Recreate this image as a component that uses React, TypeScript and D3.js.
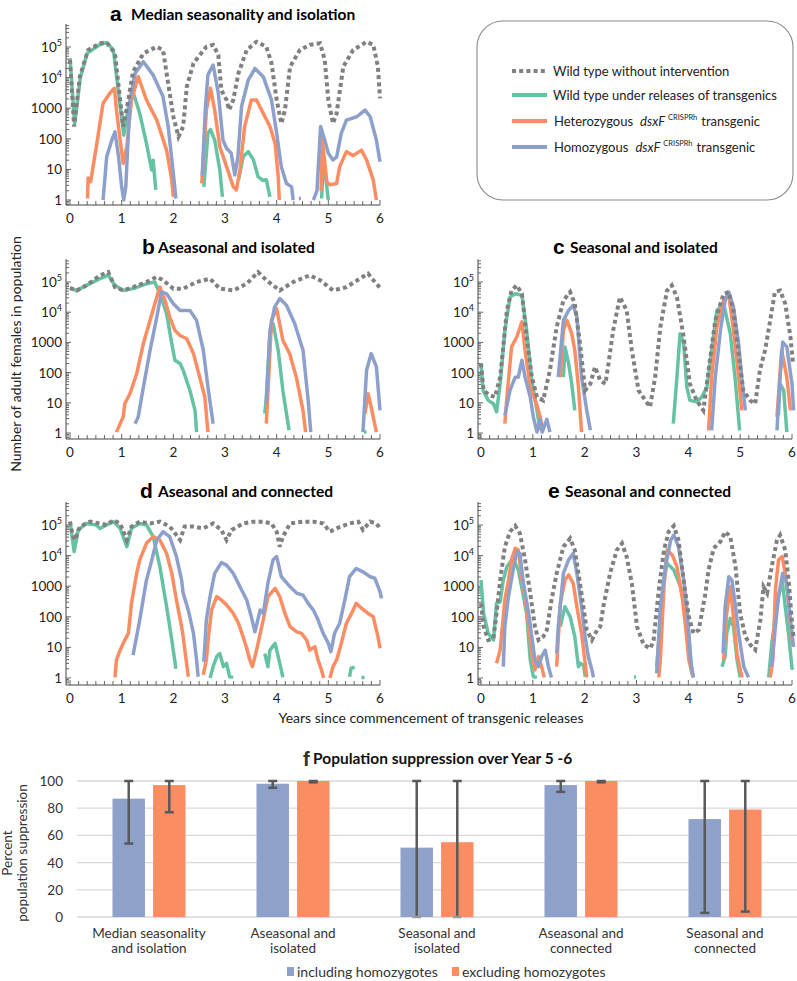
import React from 'react';
import * as d3 from 'd3';

// each series: [years, log10(adult females)], null = break (population < 1)
type Pt = [number, number] | null;

// a  median seasonality and isolation
const aWild: Pt[] = [[0,4.58],[0.08,2.4],[0.19,4.03],[0.35,4.9],[0.58,5.12],[0.71,5.15],[0.87,4.79],[0.97,3.27],[1.03,2.4],[1.13,3.27],[1.22,4.19],[1.42,4.79],[1.68,5.01],[1.8,4.9],[1.9,3.81],[2.0,2.72],[2.1,2.07],[2.19,2.4],[2.26,3.7],[2.39,4.47],[2.64,5.01],[2.77,5.07],[2.87,4.74],[2.93,3.59],[3.03,3.27],[3.08,2.94],[3.16,3.27],[3.26,4.14],[3.42,4.9],[3.61,5.17],[3.8,5.01],[3.9,4.47],[4.0,3.27],[4.09,2.5],[4.16,2.94],[4.26,4.36],[4.45,4.9],[4.64,5.07],[4.84,5.12],[4.93,4.58],[5.0,3.27],[5.09,2.5],[5.16,2.83],[5.29,4.36],[5.48,4.9],[5.74,5.17],[5.87,5.07],[5.96,4.36],[6.0,3.32]];
const aGreen: Pt[] = [[0,4.64],[0.09,2.49],[0.2,4.0],[0.33,4.79],[0.55,5.05],[0.71,5.15],[0.84,4.9],[0.94,3.5],[1.04,2.12],[1.13,3.05],[1.22,3.54],[1.35,2.83],[1.48,1.85],[1.58,0.98],[1.61,1.3],[1.66,0.33],null,[2.59,0.43],[2.67,2.18],[2.72,2.3],[2.8,1.96],[2.9,0.98],[2.95,0.1],null,[3.26,0.65],[3.35,1.41],[3.45,1.58],[3.55,1.31],[3.64,0.76],[3.73,0.64],[3.8,0.66],[3.87,0.1],null,[4.87,0.05],[4.91,1.41],[4.97,0.43],[5.0,0]];
const aHet: Pt[] = [[0.34,0.05],[0.35,0.72],[0.4,0.6],[0.52,1.85],[0.64,3.16],[0.77,3.49],[0.86,3.65],[0.9,2.94],[0.97,1.96],[1.03,1.2],[1.1,1.74],[1.19,3.27],[1.32,4.03],[1.48,3.27],[1.68,2.61],[1.87,1.63],[1.97,0.65],[2.0,0.1],null,[2.55,0.54],[2.64,2.94],[2.72,3.65],[2.8,2.94],[2.9,1.74],[3.03,1.09],[3.16,0.43],[3.22,0.33],[3.29,0.98],[3.38,2.4],[3.51,3.27],[3.61,3.27],[3.74,2.83],[3.87,2.4],[3.97,1.85],[4.03,0.76],[4.05,0],null,[4.86,0.3],[4.88,2.0],[4.92,1.4],[4.97,0.6],[5.03,0.5],[5.16,0.54],[5.22,1.09],[5.35,1.58],[5.48,1.45],[5.64,1.63],[5.74,1.31],[5.87,0.65],[5.93,0]];
const aHom: Pt[] = [[0.64,0],[0.71,1.41],[0.81,1.96],[0.87,2.23],[0.94,1.41],[1.0,0.43],[1.04,0],[1.08,0.43],[1.16,3.27],[1.26,4.14],[1.42,4.52],[1.61,4.08],[1.8,3.38],[1.9,2.4],[2.0,0.87],[2.05,0.05],null,[2.56,0.8],[2.62,3.0],[2.67,4.1],[2.77,4.41],[2.87,3.5],[2.96,1.96],[3.03,1.69],[3.12,1.53],[3.19,0.82],[3.25,1.4],[3.32,3.05],[3.45,3.92],[3.58,4.3],[3.74,4.03],[3.9,3.27],[4.0,2.18],[4.09,1.09],[4.19,0.54],[4.29,0.43],[4.32,0],null,[4.43,0.05],[4.47,0.05],null,[4.71,0],[4.78,0.3],[4.85,2.4],[4.93,1.96],[5.0,1.53],[5.09,1.31],[5.16,1.4],[5.25,2.18],[5.35,2.61],[5.55,2.72],[5.71,2.94],[5.81,2.72],[5.93,1.96],[6.0,1.25]];

// b  aseasonal and isolated
const bWild: Pt[] = [[0,4.81],[0.13,4.72],[0.32,4.89],[0.58,5.22],[0.74,5.33],[0.87,4.83],[1.03,4.72],[1.22,4.83],[1.48,5.0],[1.68,5.17],[1.8,5.06],[2.0,4.78],[2.19,4.78],[2.45,5.0],[2.71,5.11],[2.9,4.78],[3.16,4.72],[3.42,4.94],[3.64,5.33],[3.8,5.06],[4.06,4.72],[4.32,5.0],[4.64,5.22],[4.84,5.06],[5.09,4.72],[5.35,4.83],[5.61,5.11],[5.77,5.28],[5.9,5.0],[6.0,4.81]];
const bGreen: Pt[] = [[0,4.78],[0.13,4.72],[0.32,4.89],[0.58,5.11],[0.74,5.22],[0.87,4.89],[1.03,4.72],[1.22,4.78],[1.48,4.94],[1.64,5.0],[1.74,4.61],[1.87,3.95],[1.97,2.96],[2.03,2.41],[2.13,2.3],[2.19,2.08],[2.32,1.41],[2.42,0.75],[2.45,0.03],null,[3.77,0.64],[3.8,1.19],[3.87,3.29],[3.93,3.62],[4.03,2.74],[4.12,1.41],[4.24,0.09],null,[5.69,0.03],[5.74,0.03]];
const bHet: Pt[] = [[0.9,0.03],[0.97,0.31],[1.03,0.53],[1.06,0.97],[1.16,1.3],[1.29,1.96],[1.42,2.96],[1.55,3.73],[1.68,4.5],[1.74,4.83],[1.84,4.39],[1.93,3.84],[2.03,3.4],[2.13,3.23],[2.26,3.12],[2.39,2.63],[2.51,1.85],[2.61,1.19],[2.67,0.03],null,[3.8,0.31],[3.83,1.3],[3.9,3.73],[4.0,4.12],[4.12,3.07],[4.25,2.63],[4.38,1.85],[4.51,0.75],[4.56,0.03],null,[5.71,0.64],[5.77,1.3],[5.83,0.86],[5.93,0.03]];
const bHom: Pt[] = [[1.26,0.31],[1.32,0.53],[1.42,1.52],[1.55,2.74],[1.68,3.84],[1.77,4.67],[1.87,4.61],[2.0,4.28],[2.13,4.06],[2.32,4.06],[2.45,3.73],[2.58,2.74],[2.67,1.52],[2.77,0.31],null,[3.8,0.97],[3.87,3.4],[3.96,4.17],[4.06,4.45],[4.19,4.23],[4.35,3.62],[4.51,2.74],[4.61,1.08],[4.66,0.03],null,[5.67,0.03],[5.74,2.08],[5.83,2.63],[5.93,2.19],[6.0,0.75]];

// c  seasonal and isolated
const cWild: Pt[] = [[0,2.3],[0.05,1.41],[0.17,1.25],[0.27,1.19],[0.37,1.85],[0.5,4.06],[0.59,4.72],[0.69,4.89],[0.79,4.61],[0.88,3.18],[0.98,1.85],[1.08,1.19],[1.2,1.08],[1.33,2.08],[1.46,3.51],[1.59,4.39],[1.72,4.67],[1.81,4.28],[1.91,2.96],[2.01,1.41],[2.11,1.63],[2.2,2.19],[2.3,1.74],[2.4,1.63],[2.46,2.3],[2.55,3.4],[2.68,4.5],[2.81,4.06],[2.91,2.74],[3.04,1.41],[3.17,1.08],[3.26,0.86],[3.36,1.85],[3.46,3.51],[3.59,4.72],[3.68,4.89],[3.78,4.5],[3.91,3.18],[4.03,1.63],[4.16,1.08],[4.29,0.75],[4.39,2.08],[4.52,3.73],[4.68,4.61],[4.78,4.67],[4.87,4.06],[4.97,2.63],[5.06,1.41],[5.19,1.08],[5.29,0.97],[5.38,2.08],[5.48,2.74],[5.58,3.73],[5.67,4.67],[5.77,4.72],[5.87,4.28],[5.97,3.18],[6.02,2.3]];
const cGreen: Pt[] = [[0,2.3],[0.04,1.41],[0.14,1.08],[0.24,0.97],[0.3,0.7],[0.37,1.63],[0.46,3.4],[0.56,4.5],[0.66,4.61],[0.79,4.56],[0.88,3.4],[0.98,1.74],[1.08,0.75],[1.14,0.09],null,[1.59,1.85],[1.62,2.85],[1.69,2.3],[1.75,1.63],[1.81,0.75],null,[3.71,0.31],[3.78,1.85],[3.84,3.29],[3.91,2.96],[3.97,1.52],[4.03,1.08],[4.16,1.03],[4.26,1.19],[4.36,1.52],[4.45,2.74],[4.55,4.06],[4.68,4.28],[4.81,3.29],[4.9,1.85],[4.99,0.09],null,[5.74,0.6],[5.77,1.63],[5.84,1.41],[5.9,0.03]];
const cHet: Pt[] = [[0.46,0.31],[0.5,1.19],[0.59,2.85],[0.69,3.18],[0.79,3.68],[0.85,2.74],[0.95,1.52],[1.08,0.92],[1.14,0.53],[1.2,0.09],null,[1.53,1.85],[1.59,3.4],[1.66,3.73],[1.75,3.29],[1.81,2.74],[1.88,1.52],[1.94,0.03],null,[4.39,0.09],[4.45,1.85],[4.55,3.51],[4.68,4.39],[4.78,4.56],[4.87,3.4],[4.97,1.85],[5.03,0.75],null,[5.71,0.53],[5.8,2.74],[5.9,1.85],[5.97,0.75]];
const cHom: Pt[] = [[0.46,0.58],[0.56,1.41],[0.66,1.85],[0.72,1.85],[0.79,2.41],[0.85,1.85],[0.95,1.19],[1.01,0.53],[1.08,0.03],[1.14,0.45],[1.18,0.03],[1.27,0.45],[1.33,0.03],null,[1.49,1.85],[1.59,3.73],[1.69,4.06],[1.78,4.23],[1.85,3.84],[1.94,1.85],[2.04,0.75],[2.11,0.09],null,[4.45,0.09],[4.52,1.85],[4.62,3.4],[4.71,4.39],[4.78,4.67],[4.87,4.17],[4.97,2.96],[5.03,1.85],[5.1,0.75],null,[5.71,0.09],[5.77,1.85],[5.82,3.01],[5.9,2.85],[6.0,1.63],[6.03,0.75]];

// d  aseasonal and connected
const dWild: Pt[] = [[0,5.11],[0.05,4.67],[0.1,4.51],[0.19,4.95],[0.39,5.11],[0.58,5.05],[0.71,5.0],[0.84,5.16],[0.97,5.05],[1.1,4.51],[1.19,4.95],[1.35,5.11],[1.55,5.05],[1.74,5.11],[1.93,4.95],[2.06,4.67],[2.13,4.51],[2.22,4.95],[2.39,4.95],[2.58,4.89],[2.77,5.05],[2.93,4.84],[3.03,4.51],[3.13,4.84],[3.35,5.05],[3.55,5.11],[3.74,5.11],[3.9,5.05],[4.0,4.78],[4.06,4.29],[4.12,4.62],[4.26,5.05],[4.51,5.11],[4.71,5.11],[4.9,5.05],[5.03,4.78],[5.16,4.89],[5.41,5.05],[5.58,5.11],[5.67,4.84],[5.81,5.11],[5.93,5.05],[6.0,4.89]];
const dGreen: Pt[] = [[0,5.11],[0.05,4.51],[0.08,4.13],[0.16,4.84],[0.32,5.05],[0.51,5.0],[0.58,4.89],[0.71,5.0],[0.84,5.11],[0.97,4.89],[1.1,4.29],[1.19,4.89],[1.35,5.05],[1.48,5.0],[1.61,4.62],[1.74,3.64],[1.87,2.33],[1.97,1.24],[2.05,0.3],null,[2.71,0],[2.77,0.37],[2.84,0.7],[2.9,0.8],[2.97,0.37],[3.03,0.48],[3.09,0.04],[3.16,0.02],null,[3.77,0.8],[3.83,0.37],[3.87,0.91],[3.97,1.13],[4.03,0.7],[4.09,0.26],[4.12,0.02],null,[5.41,0.04],[5.44,0.32],[5.51,0.35],null,[5.64,0.02],[5.7,0.02]];
const dHet: Pt[] = [[0.87,0.02],[0.9,0.59],[0.97,0.91],[1.06,1.24],[1.13,1.46],[1.19,2.44],[1.29,3.42],[1.35,3.86],[1.48,4.4],[1.61,4.62],[1.74,4.51],[1.87,4.07],[1.97,3.42],[2.06,2.55],[2.16,1.68],[2.19,1.35],[2.29,0.04],null,[2.58,0.1],[2.64,0.59],[2.68,1.35],[2.74,2.22],[2.84,2.66],[2.93,2.55],[3.03,2.39],[3.16,2.11],[3.26,1.79],[3.35,1.35],[3.42,0.97],[3.48,0.59],[3.53,0.37],[3.58,0.7],[3.64,1.13],[3.74,1.9],[3.83,2.66],[3.97,2.93],[4.06,2.66],[4.16,2.11],[4.26,1.68],[4.39,1.51],[4.48,1.46],[4.58,1.24],[4.64,0.91],[4.74,1.02],[4.8,0.59],[4.86,0.3],[4.91,0],null,[5.03,0],[5.09,0.37],[5.16,0.59],[5.25,1.13],[5.35,1.79],[5.45,2.11],[5.54,2.44],[5.64,2.28],[5.77,2.11],[5.87,2.0],[5.96,1.35],[6.0,0.97]];
const dHom: Pt[] = [[1.22,0.75],[1.35,1.9],[1.48,3.2],[1.55,3.64],[1.68,4.51],[1.8,4.78],[1.93,4.62],[2.06,3.97],[2.16,3.2],[2.19,2.77],[2.29,2.22],[2.39,1.46],[2.45,0.59],[2.48,0.04],null,[2.59,0.53],[2.64,1.9],[2.71,2.66],[2.8,3.42],[2.93,3.77],[3.03,3.69],[3.16,3.42],[3.29,2.98],[3.42,2.55],[3.51,2.0],[3.58,1.51],[3.68,2.22],[3.74,2.11],[3.83,3.09],[3.93,3.86],[4.0,3.97],[4.09,3.31],[4.26,2.98],[4.39,2.77],[4.51,2.71],[4.61,2.44],[4.71,2.22],[4.8,1.9],[4.9,1.46],[5.0,1.13],[5.05,0.86],[5.12,1.46],[5.22,1.79],[5.32,2.55],[5.41,3.31],[5.54,3.58],[5.67,3.47],[5.81,3.31],[5.9,3.26],[6.0,2.82],[6.03,2.6]];

// e  seasonal and connected
const eWild: Pt[] = [[0,2.44],[0.05,1.68],[0.14,1.24],[0.24,1.3],[0.3,2.11],[0.37,3.2],[0.46,4.29],[0.56,4.78],[0.66,4.97],[0.75,4.73],[0.85,3.86],[0.95,2.77],[1.04,1.68],[1.11,1.24],[1.2,1.35],[1.27,1.57],[1.36,2.55],[1.46,3.42],[1.59,4.29],[1.72,4.56],[1.81,4.18],[1.91,3.09],[2.04,1.57],[2.14,1.24],[2.24,1.57],[2.3,1.68],[2.36,2.33],[2.49,3.42],[2.62,4.18],[2.72,4.4],[2.81,3.97],[2.91,3.09],[3.01,1.68],[3.14,1.08],[3.27,0.97],[3.33,1.24],[3.43,2.88],[3.53,4.18],[3.62,4.78],[3.72,4.97],[3.81,4.51],[3.91,3.2],[4.01,2.0],[4.1,1.46],[4.2,1.57],[4.26,2.11],[4.33,2.77],[4.39,3.53],[4.49,4.24],[4.62,4.46],[4.71,4.78],[4.81,4.62],[4.91,3.64],[5.0,2.11],[5.1,1.35],[5.2,1.08],[5.29,0.92],[5.39,1.9],[5.45,2.98],[5.52,2.77],[5.61,3.64],[5.71,4.51],[5.77,4.67],[5.87,4.18],[5.94,3.09],[6.0,1.79],[6.03,1.35]];
const eGreen: Pt[] = [[0,3.2],[0.05,2.11],[0.14,1.46],[0.24,1.24],[0.3,2.44],[0.37,2.49],[0.43,3.2],[0.5,3.64],[0.62,3.91],[0.72,3.53],[0.82,2.66],[0.88,2.11],[0.95,0.59],[1.01,0.04],[1.08,0.02],null,[1.53,1.68],[1.62,2.33],[1.72,2.0],[1.81,1.35],[1.88,0.37],[1.91,0.48],[1.98,0.42],[2.01,0.04],null,[2.95,0.03],[2.99,0.03],null,[3.39,0.37],[3.46,1.79],[3.53,3.2],[3.59,3.75],[3.72,3.53],[3.85,2.98],[3.94,2.22],[4.01,1.46],[4.07,0.15],[4.1,0.02],null,[4.65,0.37],[4.71,0.7],[4.74,1.46],[4.81,1.95],[4.87,1.68],[4.94,0.59],[5.0,0.02],null,[5.55,0.02],[5.61,1.13],[5.71,2.44],[5.81,3.2],[5.87,2.33],[5.94,1.35],[6.0,0.32],[6.03,0.35]];
const eHet: Pt[] = [[0.3,0.48],[0.37,0.92],[0.46,2.55],[0.53,3.2],[0.59,3.86],[0.66,4.24],[0.72,4.18],[0.79,3.2],[0.85,2.66],[0.92,1.68],[0.98,0.8],[1.04,0.26],[1.11,0.7],[1.17,0.37],[1.22,0.02],null,[1.46,0.37],[1.53,2.44],[1.62,3.2],[1.69,3.37],[1.78,3.09],[1.85,2.33],[1.94,1.46],[2.01,0.48],[2.04,0.02],null,[3.43,0.02],[3.46,0.59],[3.53,2.98],[3.59,4.18],[3.69,4.02],[3.78,3.64],[3.88,2.66],[3.94,1.79],[4.01,0.59],[4.07,0.15],[4.1,0.02],null,[4.68,0.59],[4.74,2.11],[4.81,2.98],[4.87,2.0],[4.94,0.8],[5.0,0.26],[5.04,0.02],null,[5.58,0.02],[5.63,0.59],[5.68,2.88],[5.74,3.86],[5.81,3.97],[5.87,3.42],[5.94,2.33],[6.0,1.24],[6.03,1.02]];
const eHom: Pt[] = [[0.43,0.37],[0.46,1.68],[0.53,2.66],[0.62,3.53],[0.69,4.13],[0.75,4.07],[0.82,3.09],[0.92,2.11],[0.98,1.35],[1.04,0.59],[1.11,0.37],[1.17,0.7],[1.24,0.91],[1.3,0.37],[1.36,0.02],null,[1.46,0.8],[1.49,1.68],[1.59,3.42],[1.69,3.86],[1.78,4.07],[1.85,3.42],[1.94,2.33],[2.01,1.35],[2.07,0.7],[2.14,0.26],[2.17,0.02],null,[3.39,0.15],[3.46,2.33],[3.56,3.64],[3.66,4.51],[3.72,4.67],[3.81,4.29],[3.91,3.2],[3.98,2.11],[4.04,0.59],[4.1,0.02],null,[4.67,0.8],[4.71,2.33],[4.78,3.31],[4.84,3.2],[4.91,2.33],[4.97,1.46],[5.07,0.37],[5.16,0.02],null,[5.61,0.37],[5.68,1.68],[5.74,2.66],[5.82,3.42],[5.9,3.09],[5.97,1.9],[6.03,1.02]];

// f  bar chart
const groups = ['Median seasonality|and isolation', 'Aseasonal and|isolated', 'Seasonal and|isolated', 'Aseasonal and|connected', 'Seasonal and|connected'];
const inclHomo = [87, 98, 51, 97, 72];
const inclLow = [54, 95, 0, 92, 3];
const exclHomo = [97, 100, 55, 100, 79];
const exclLow = [77, 99, 0, 99, 4];
const errHigh = [100, 100, 100, 100, 100];
const pctTicks = [0, 20, 40, 60, 80, 100];

const yearTicks = [0, 1, 2, 3, 4, 5, 6];
const decades = [0, 1, 2, 3, 4, 5];

const C_WILD = '#808080';
const C_GREEN = '#66c2a5';
const C_HET = '#fc8d62';
const C_HOM = '#8da0cb';
const FONT = "Lato, 'Open Sans', sans-serif";

const panels = [
  { letter: 'a', title: 'Median  seasonality and isolation', letterX: 110, textX: 131, titleY: 21, x0: 70, x6: 380, axisX: 66, y1: 200, y5: 47, axisY: 205, wild: aWild, green: aGreen, het: aHet, hom: aHom },
  { letter: 'b', title: 'Aseasonal and isolated', letterX: 142, textX: 158, titleY: 254, x0: 70, x6: 380, axisX: 66, y1: 433, y5: 282, axisY: 439, wild: bWild, green: bGreen, het: bHet, hom: bHom },
  { letter: 'c', title: 'Seasonal and isolated', letterX: 553, textX: 570, titleY: 254, x0: 481, x6: 792, axisX: 478, y1: 433, y5: 282, axisY: 439, wild: cWild, green: cGreen, het: cHet, hom: cHom },
  { letter: 'd', title: 'Aseasonal  and connected', letterX: 140, textX: 158, titleY: 498, x0: 70, x6: 380, axisX: 66, y1: 678, y5: 525, axisY: 685, wild: dWild, green: dGreen, het: dHet, hom: dHom },
  { letter: 'e', title: 'Seasonal and connected', letterX: 548, textX: 565, titleY: 498, x0: 481, x6: 792, axisX: 478, y1: 678, y5: 525, axisY: 685, wild: eWild, green: eGreen, het: eHet, hom: eHom },
];

function Panel({ p }: { p: typeof panels[number] }) {
  const x = d3.scaleLinear().domain([0, 6]).range([p.x0, p.x6]);
  const y = d3.scaleLog().domain([1, 1e5]).range([p.y1, p.y5]);
  const line = d3.line<Pt>()
    .defined(d => d !== null)
    .x(d => x((d as [number, number])[0]))
    .y(d => y(10 ** (d as [number, number])[1]));
  const top = y(10 ** 5.75);

  const minor: number[] = [];
  for (let n = -1; n <= 5; n++) {
    for (let k = 1; k <= 9; k++) {
      const v = k * 10 ** n;
      if (v >= 0.7 && v <= 5.5e5) minor.push(v);
    }
  }
  const monthTicks = d3.range(0, 37).map(i => i / 6);

  return (
    <g>
      <text x={p.letterX} y={p.titleY} fontFamily="'Liberation Sans', Arial, sans-serif" fontWeight="bold" fontSize={21}>{p.letter}</text>
      <text x={p.textX} y={p.titleY - 1} fontFamily={FONT} fontWeight="bold" fontSize={15.5}>{p.title}</text>

      <line x1={p.axisX} x2={p.axisX} y1={top} y2={p.axisY} stroke="#444" />
      <line x1={p.axisX} x2={p.x6} y1={p.axisY} y2={p.axisY} stroke="#444" />
      {minor.map((v, i) => {
        const major = decades.some(dv => Math.abs(v - 10 ** dv) < 1e-9);
        return <line key={'m' + i} x1={p.axisX} x2={p.axisX + (major ? 5 : 3)} y1={y(v)} y2={y(v)} stroke="#555" strokeWidth={0.9} />;
      })}
      {monthTicks.map((t, i) => (
        <line key={'t' + i} x1={x(t)} x2={x(t)} y1={p.axisY} y2={p.axisY - (i % 6 === 0 ? 5 : 4)} stroke="#555" strokeWidth={0.9} />
      ))}
      {decades.map(dv => (
        <text key={'y' + dv} x={p.axisX - 4} y={y(10 ** dv) + 5} textAnchor="end" fontFamily={FONT} fontSize={13.5} fill="#222">
          {dv <= 3 ? String(10 ** dv) : <>10<tspan fontSize={9} dy={-6}>{dv}</tspan></>}
        </text>
      ))}
      {yearTicks.map(t => (
        <text key={'x' + t} x={x(t)} y={p.axisY + 18} textAnchor="middle" fontFamily={FONT} fontSize={13.5} fill="#222">{t}</text>
      ))}

      <path d={line(p.green) || ''} fill="none" stroke={C_GREEN} strokeWidth={3.5} strokeLinejoin="round" />
      <path d={line(p.het) || ''} fill="none" stroke={C_HET} strokeWidth={3.5} strokeLinejoin="round" />
      <path d={line(p.hom) || ''} fill="none" stroke={C_HOM} strokeWidth={3.5} strokeLinejoin="round" />
      <path d={line(p.wild) || ''} fill="none" stroke={C_WILD} strokeWidth={4} strokeDasharray="4 3.2" />
    </g>
  );
}

function Legend() {
  const items = [
    { c: C_WILD, dash: '4 3.2', y: 71 },
    { c: C_GREEN, dash: undefined, y: 95 },
    { c: C_HET, dash: undefined, y: 121 },
    { c: C_HOM, dash: undefined, y: 147 },
  ];
  return (
    <g fontFamily={FONT} fontSize={13} fill="#222">
      <rect x={477} y={21} width={316} height={179} rx={26} ry={26} fill="none" stroke="#8a8a8a" strokeWidth={1.1} />
      {items.map((it, i) => (
        <line key={i} x1={512} x2={547} y1={it.y} y2={it.y} stroke={it.c} strokeWidth={4} strokeDasharray={it.dash} />
      ))}
      <text x={553} y={76}>Wild type without intervention</text>
      <text x={553} y={100}>Wild type under releases of transgenics</text>
      <text x={554} y={126}>Heterozygous<tspan dx={7} fontStyle="italic">dsxF</tspan><tspan dx={3} fontSize={7.5} dy={-6}>CRISPRh</tspan><tspan dx={4} dy={6}>transgenic</tspan></text>
      <text x={554} y={152}>Homozygous<tspan dx={7} fontStyle="italic">dsxF</tspan><tspan dx={3} fontSize={7.5} dy={-6}>CRISPRh</tspan><tspan dx={4} dy={6}>transgenic</tspan></text>
    </g>
  );
}

function Bars() {
  const bx = d3.scaleBand().domain(groups).range([77, 797]);
  const inner = d3.scaleBand().domain(['inc', 'exc']).range([-36.5, 36.5]).paddingInner(0.2);
  const by = d3.scaleLinear().domain([0, 100]).range([917, 781]);
  const series = [
    { key: 'inc', vals: inclHomo, lo: inclLow, c: '#8ea1ca' },
    { key: 'exc', vals: exclHomo, lo: exclLow, c: '#fc8d62' },
  ];
  return (
    <g fontFamily={FONT} fill="#333">
      <text x={303} y={766} fontFamily="'Liberation Sans', Arial, sans-serif" fontWeight="bold" fontSize={20}>f</text>
      <text x={313} y={764} fontWeight="bold" fontSize={15.5} fill="#111">Population suppression over Year 5  -6</text>
      {pctTicks.map(t => (
        <g key={t}>
          <line x1={77} x2={797} y1={by(t)} y2={by(t)} stroke="#d9d9d9" strokeWidth={1.3} />
          <text x={63} y={by(t) + 5} textAnchor="end" fontSize={13.5}>{t}</text>
        </g>
      ))}
      {groups.map((g, gi) => {
        const cx = (bx(g) as number) + bx.bandwidth() / 2;
        return (
          <g key={g}>
            {series.map(s => {
              const x0 = cx + (inner(s.key) as number);
              const w = inner.bandwidth();
              const mx = x0 + w / 2;
              return (
                <g key={s.key}>
                  <rect x={x0} y={by(s.vals[gi])} width={w} height={by(0) - by(s.vals[gi])} fill={s.c} />
                  <line x1={mx} x2={mx} y1={by(errHigh[gi])} y2={by(s.lo[gi])} stroke="#595959" strokeWidth={2.5} />
                  <line x1={mx - 4.5} x2={mx + 4.5} y1={by(errHigh[gi])} y2={by(errHigh[gi])} stroke="#595959" strokeWidth={2.5} />
                  <line x1={mx - 4.5} x2={mx + 4.5} y1={by(s.lo[gi])} y2={by(s.lo[gi])} stroke={s.lo[gi] === 0 ? '#9a9a9a' : '#595959'} strokeWidth={2.5} />
                </g>
              );
            })}
            {g.split('|').map((ln, li) => (
              <text key={li} x={cx} y={938 + li * 15} textAnchor="middle" fontSize={13.5}>{ln}</text>
            ))}
          </g>
        );
      })}
      <rect x={287} y={967} width={7} height={9} fill="#8ea1ca" />
      <text x={297} y={977} fontSize={14}>including homozygotes</text>
      <rect x={452} y={967} width={7} height={9} fill="#fc8d62" />
      <text x={462} y={977} fontSize={14}>excluding homozygotes</text>
      <text transform="translate(12,853) rotate(-90)" textAnchor="middle" fontSize={13.5}>Percent</text>
      <text transform="translate(27,853) rotate(-90)" textAnchor="middle" fontSize={13.5}>population suppression</text>
    </g>
  );
}

export default function App() {
  return (
    <svg width={797} height={981} style={{ position: 'absolute', left: 0, top: 0, background: '#fff' }}>
      {panels.map(p => <Panel key={p.letter} p={p} />)}
      <Legend />
      <text transform="translate(21,354) rotate(-90)" textAnchor="middle" fontFamily={FONT} fontSize={14} fill="#222">Number of adult females in population</text>
      <text x={431} y={723} textAnchor="middle" fontFamily={FONT} fontSize={14} fill="#222">Years since commencement of transgenic releases</text>
      <Bars />
    </svg>
  );
}
